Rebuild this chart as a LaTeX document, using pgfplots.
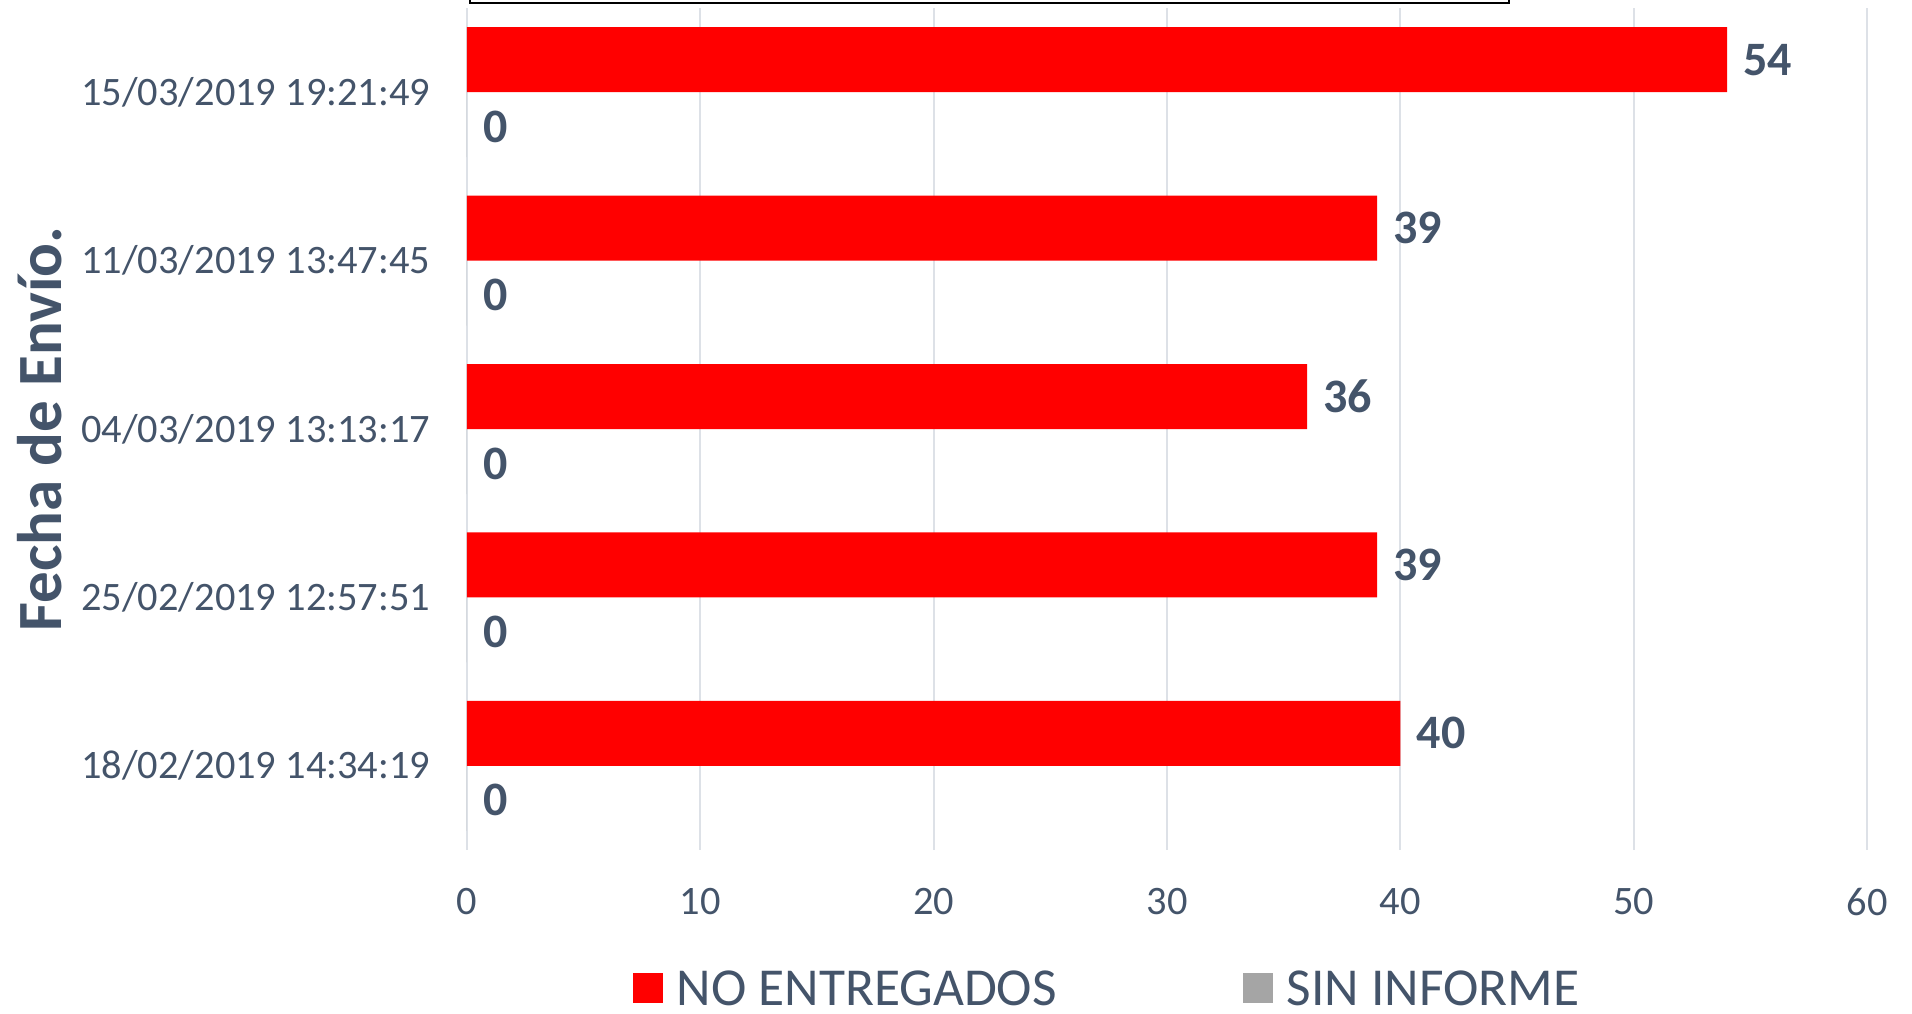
\documentclass[border=0pt]{standalone}
\usepackage{pgfplots}
\pgfplotsset{compat=1.18}
\usepackage{fontspec}
\setmainfont{Carlito}
\definecolor{txt}{HTML}{44546A}
\definecolor{rojo}{HTML}{FF0000}
\definecolor{gris}{HTML}{A5A5A5}
\definecolor{rejilla}{HTML}{DDE1E7}

\begin{document}
\begin{tikzpicture}
\begin{axis}[
  scale only axis, width=700pt, height=421pt,
  xbar, bar width=32.5pt,
  xmin=0, xmax=60, ymin=-0.5, ymax=4.5,
  xtick={0,10,...,60}, ytick={0,...,4},
  yticklabels={18/02/2019 14:34:19, 25/02/2019 12:57:51, 04/03/2019 13:13:17, 11/03/2019 13:47:45, 15/03/2019 19:21:49},
  axis line style={draw=none}, tick style={draw=none},
  xmajorgrids, grid style={rejilla, line width=1pt},
  /pgf/number format/assume math mode=true,
  ticklabel style={font=\fontsize{20.2}{24}\selectfont, text=txt, inner sep=0pt},
  yticklabel style={xshift=-14pt},
  xticklabel style={yshift=-19pt},
  ylabel={Fecha de Envío.},
  ylabel style={at={(axis description cs:-0.305,0.5)}, anchor=center,
    font=\bfseries\fontsize{31.5}{36}\selectfont, text=txt},
  nodes near coords,
  nodes near coords style={font=\bfseries\fontsize{24}{28}\selectfont, text=txt, inner sep=0pt, xshift=8pt},
  clip=false,
  legend columns=2,
  legend image code/.code={\fill[#1] (0pt,-7.5pt) rectangle (15pt,7.5pt);},
  legend style={at={(0.118,-0.164)}, anchor=west, draw=none, fill=none,
    inner sep=0pt, font=\fontsize{26.7}{30}\selectfont, text=txt,
    nodes={inner xsep=7pt, inner ysep=0pt, text depth=0pt},
    /tikz/every even column/.append style={column sep=86pt}},
]
\addplot[fill=rojo, draw=none, bar shift=16.25pt] coordinates {(40,0) (39,1) (36,2) (39,3) (54,4)};
\addplot[fill=gris, draw=none, bar shift=-16.25pt, nodes near coords style={yshift=-1pt}] coordinates {(0,0) (0,1) (0,2) (0,3) (0,4)};
\legend{NO ENTREGADOS, SIN INFORME}
\draw[black, line width=1pt] (rel axis cs:0.002,1.006) rectangle (rel axis cs:0.744,1.2);
\coordinate (bl) at (rel axis cs:0,0);
\coordinate (tr) at (rel axis cs:1,1);
\end{axis}
\pgfresetboundingbox
\path ([shift={(-233.5pt,-81.5pt)}]bl) rectangle ([shift={(22.5pt,4pt)}]tr);
\end{tikzpicture}
\end{document}
